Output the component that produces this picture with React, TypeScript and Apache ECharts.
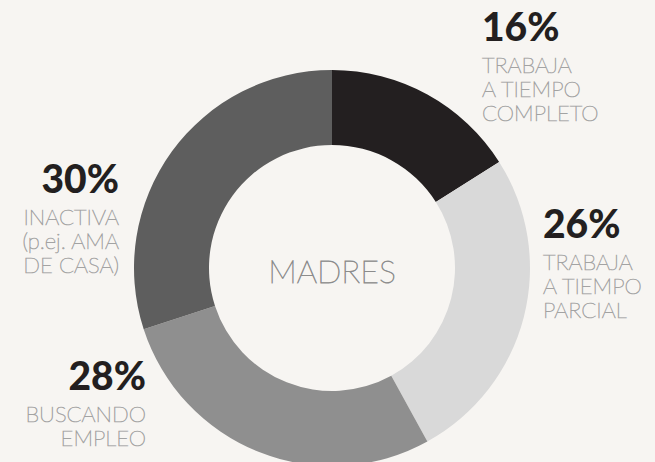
import React, { useEffect, useRef } from "react";
import * as echarts from "echarts";

const categories = ["TRABAJA A TIEMPO COMPLETO", "TRABAJA A TIEMPO PARCIAL", "BUSCANDO EMPLEO", "INACTIVA (p.ej. AMA DE CASA)"];
const values = [16, 26, 28, 30];
const labelLines = [
  ["TRABAJA", "A TIEMPO", "COMPLETO"],
  ["TRABAJA", "A TIEMPO", "PARCIAL"],
  ["BUSCANDO", "EMPLEO"],
  ["INACTIVA", "(p.ej. AMA", "DE CASA)"],
];
const colors = ["#231f20", "#d9d9d9", "#8f8f8f", "#5e5e5e"];
const centerTitle = "MADRES";

// label anchor positions: [x, y of percent top, align]
const labelPos: [number, number, "left" | "right"][] = [
  [482, 6, "left"],
  [543, 203, "left"],
  [146, 355, "right"],
  [119, 158, "right"],
];

export default function App() {
  const ref = useRef<HTMLDivElement>(null);
  useEffect(() => {
    const chart = echarts.init(ref.current!, undefined, { renderer: "svg" });
    const graphics: any[] = [];
    values.forEach((v, i) => {
      const [x, y, align] = labelPos[i];
      graphics.push({
        type: "text",
        x,
        y,
        style: {
          text: v + "%",
          fill: "#231f20",
          font: "900 39px Lato",
          align,
          verticalAlign: "top",
        },
      });
      labelLines[i].forEach((line, j) => {
        graphics.push({
          type: "text",
          x,
          y: y + 47 + j * 24.4,
          style: {
            text: line,
            fill: "#a3a3a3",
            stroke: "#a3a3a3",
            lineWidth: 0.7,
            font: "100 22px Lato",
            align,
            verticalAlign: "top",
          },
        });
      });
    });
    graphics.push({
      type: "text",
      x: 332,
      y: 270,
      style: {
        text: centerTitle,
        fill: "#8c8c8c",
        stroke: "#8c8c8c",
        lineWidth: 0.8,
        font: "100 32px Lato",
        align: "center",
        verticalAlign: "middle",
      },
    });
    chart.setOption({
      animation: false,
      backgroundColor: "#f7f5f2",
      series: [
        {
          type: "pie",
          center: [332, 268],
          radius: [123, 198],
          startAngle: 90,
          clockwise: true,
          label: { show: false },
          labelLine: { show: false },
          emphasis: { disabled: true },
          data: values.map((v, i) => ({
            name: categories[i],
            value: v,
            itemStyle: { color: colors[i] },
          })),
        },
      ],
      graphic: graphics,
    });
    return () => chart.dispose();
  }, []);
  return (
    <div
      ref={ref}
      style={{ position: "fixed", left: 0, top: 0, width: 655, height: 462 }}
    />
  );
}
